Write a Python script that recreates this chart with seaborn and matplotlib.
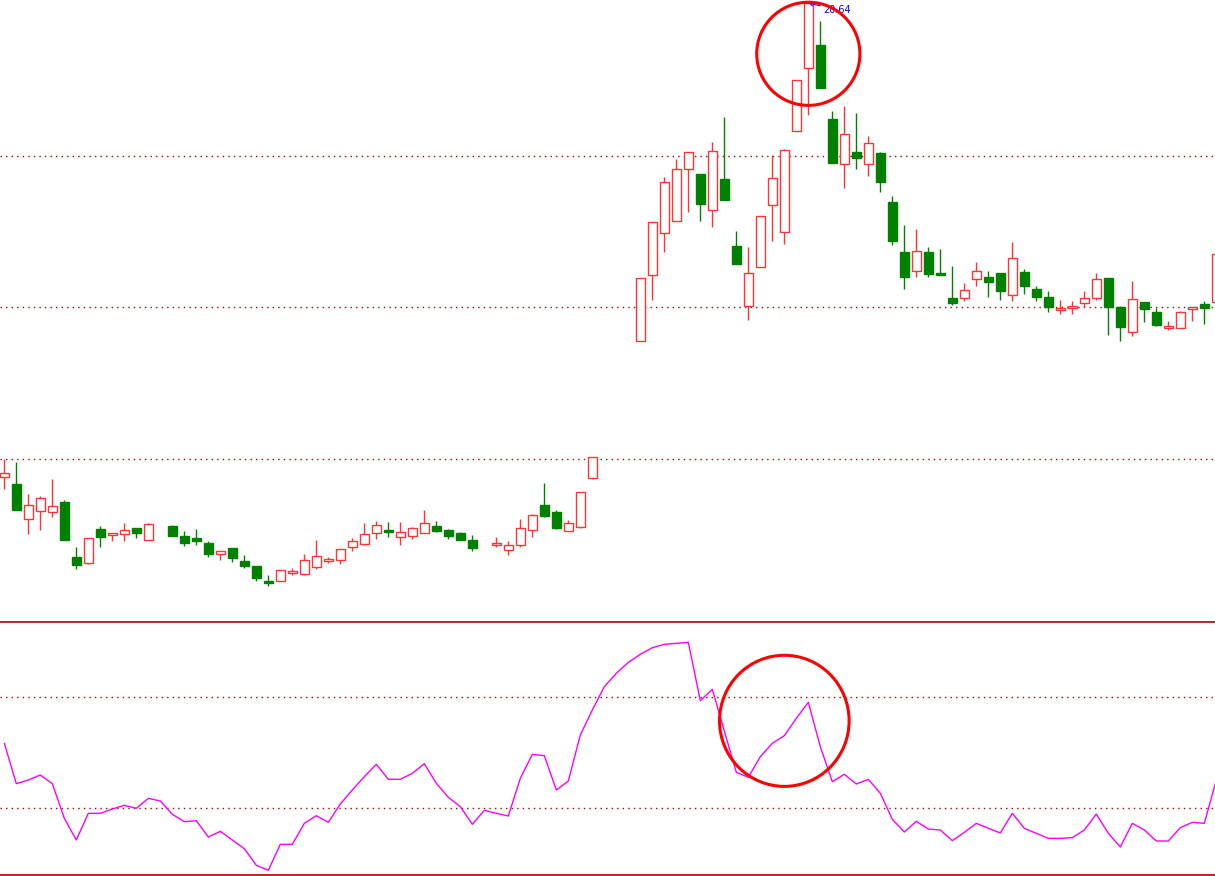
import numpy as np
import pandas as pd
import matplotlib
matplotlib.use('Agg')
import matplotlib.pyplot as plt
import seaborn as sns
from matplotlib.patches import Ellipse

nan = np.nan

# daily OHLC (nan = no candle drawn that day)
opens = [8.80, 8.62, 7.75, 7.95, 7.92, 8.17, 6.79, 6.65, 7.49, 7.35,
         7.37, 7.52, 7.22, nan, 7.57, 7.32, 7.27, 7.14, 6.87, 7.02,
         6.69, 6.57, 6.19, 6.20, 6.39, 6.37, 6.55, 6.70, 6.71, 7.05,
         7.12, 7.40, 7.47, 7.30, 7.32, 7.40, 7.57, 7.47, 7.39, 7.22,
         nan, 7.09, 6.96, 7.10, 7.46, 8.09, 7.92, 7.45, 7.55, 8.76,
         nan, nan, nan, 12.18, 13.83, 14.88, 15.18, 16.48, 16.37, 15.46,
         16.24, 14.57, 13.06, 14.03, 15.58, 14.91, 17.43, 19.01, 19.59, 17.74,
         16.61, 16.92, 16.61, 16.89, 15.67, 14.42, 13.93, 14.42, 13.89, 13.27,
         13.26, 13.73, 13.79, 13.89, 13.33, 13.92, 13.49, 13.29, 12.97, 13.01,
         13.15, 13.27, 13.77, 13.04, 12.41, 13.17, 12.92, 12.51, 12.51, 13.00,
         13.12, 13.16]
highs = [9.24, 9.17, 8.37, 8.32, 8.74, 8.21, 7.04, 7.26, 7.57, 7.38,
         7.63, 7.52, 7.64, nan, 7.59, 7.44, 7.49, 7.19, 6.93, 7.02,
         6.84, 6.57, 6.34, 6.47, 6.52, 6.87, 7.22, 6.78, 6.98, 7.27,
         7.64, 7.69, 7.67, 7.67, 7.53, 7.97, 7.69, 7.49, 7.42, 7.34,
         nan, 7.29, 7.19, 7.74, 7.86, 8.64, 7.97, 7.72, 8.42, 9.28,
         nan, nan, nan, 13.76, 15.16, 16.30, 16.74, 16.91, 16.37, 17.16,
         17.79, 14.94, 14.55, 15.31, 16.85, 16.99, 18.71, 20.64, 20.18, 17.94,
         18.07, 17.89, 17.32, 16.92, 15.82, 15.09, 14.99, 14.54, 14.49, 14.07,
         13.64, 14.17, 13.94, 13.89, 14.67, 13.99, 13.57, 13.44, 13.22, 13.19,
         13.44, 13.89, 13.77, 13.07, 13.69, 13.17, 13.02, 12.69, 12.95, 13.05,
         13.19, 14.39]
lows = [8.49, 7.97, 7.37, 7.47, 7.79, 7.22, 6.49, 6.62, 7.04, 7.19,
        7.19, 7.27, 7.22, nan, 7.32, 7.07, 7.09, 6.79, 6.72, 6.67,
        6.52, 6.19, 6.07, 6.20, 6.35, 6.35, 6.50, 6.65, 6.62, 6.95,
        7.10, 7.24, 7.29, 7.09, 7.24, 7.40, 7.42, 7.24, 7.22, 6.94,
        nan, 7.04, 6.84, 7.05, 7.30, 7.79, 7.49, 7.44, 7.52, 8.73,
        nan, nan, nan, 12.18, 13.21, 14.41, 15.18, 15.42, 15.20, 15.05,
        15.72, 14.12, 12.72, 14.03, 14.70, 14.62, 17.43, 17.85, 18.52, 16.65,
        16.02, 16.50, 16.32, 15.92, 14.60, 13.50, 13.80, 13.80, 13.85, 13.10,
        13.20, 13.57, 13.30, 13.22, 13.20, 13.37, 13.20, 12.92, 12.87, 12.87,
        13.05, 13.22, 12.35, 12.20, 12.32, 12.67, 12.57, 12.46, 12.51, 12.70,
        12.62, 13.16]
closes = [8.89, 7.97, 8.09, 8.27, 8.07, 7.22, 6.59, 7.26, 7.29, 7.38,
          7.47, 7.39, 7.62, nan, 7.32, 7.14, 7.19, 6.87, 6.93, 6.77,
          6.57, 6.27, 6.15, 6.47, 6.44, 6.72, 6.81, 6.74, 6.98, 7.18,
          7.36, 7.58, 7.42, 7.41, 7.51, 7.63, 7.44, 7.32, 7.22, 7.02,
          nan, 7.14, 7.08, 7.51, 7.83, 7.82, 7.52, 7.63, 8.42, 9.28,
          nan, nan, nan, 13.76, 15.16, 16.16, 16.48, 16.91, 15.62, 16.93,
          15.72, 14.12, 13.88, 15.31, 16.26, 16.96, 18.71, 20.63, 18.52, 16.65,
          17.36, 16.77, 17.13, 16.17, 14.70, 13.78, 14.44, 13.87, 13.85, 13.15,
          13.47, 13.94, 13.67, 13.45, 14.27, 13.57, 13.30, 13.05, 13.02, 13.07,
          13.27, 13.74, 13.05, 12.55, 13.24, 13.00, 12.60, 12.57, 12.91, 13.04,
          13.02, 14.37]

# indicator (CCI-like oscillator)
cci = [16.5, -56.1, -49.5, -40.5, -56.1, -118.5, -157.5, -109.5, -109.5, -101.7,
       -95.1, -100.5, -82.5, -87.3, -111.3, -124.5, -122.7, -152.1, -141.9, -157.5,
       -173.1, -203.1, -212.1, -165.3, -165.3, -127.5, -113.7, -125.7, -92.7, -67.5,
       -43.5, -21.3, -48.3, -48.3, -37.5, -20.1, -55.5, -80.7, -97.5, -129.3,
       -104.1, -109.5, -114.3, -46.5, -3.3, -5.7, -67.5, -51.3, 31.5, 76.5,
       118.5, 142.5, 162.3, 176.7, 188.7, 194.7, 196.5, 198.3, 93.3, 113.7,
       38.7, -35.7, -44.7, -7.5, 16.5, 30.3, 61.5, 90.3, 10.5, -52.5,
       -39.3, -56.7, -48.3, -73.5, -120.3, -143.1, -123.9, -137.7, -139.5, -158.7,
       -143.7, -127.5, -136.5, -144.9, -109.5, -136.5, -145.5, -154.5, -154.5, -153.3,
       -139.5, -110.7, -145.5, -170.1, -127.5, -139.5, -159.3, -159.3, -135.3, -125.7,
       -127.5, -49.5]

price_levels = [16.82, 13.04, 9.24]
cci_levels = [100, -100]
peak_label = '20.64'

df = pd.DataFrame({'day': np.arange(len(opens)), 'open': opens, 'high': highs,
                   'low': lows, 'close': closes, 'cci': cci})

RED = '#ff3333'
GREEN = '#008000'
DOT = '#b00000'

sns.set_style('white')
fig = plt.figure(figsize=(12.15, 8.76), dpi=100)
ax = fig.add_axes([0, 255 / 876, 1, 621 / 876])
ax2 = fig.add_axes([0, 1 / 876, 1, 253 / 876], sharex=ax)

# --- candles ---
c = df.dropna(subset=['open'])
up = c[c['close'] >= c['open']]
down = c[c['close'] < c['open']]

ax.vlines(up['day'], up['low'], up['high'], color=RED, lw=1, zorder=2)
ax.bar(up['day'], up['close'] - up['open'], bottom=up['open'], width=0.7,
       facecolor='white', edgecolor=RED, lw=1, zorder=3)
ax.vlines(down['day'], down['low'], down['high'], color=GREEN, lw=1, zorder=2)
ax.bar(down['day'], down['close'] - down['open'], bottom=down['open'], width=0.7,
       facecolor=GREEN, edgecolor=GREEN, lw=1, zorder=3)

for lvl in price_levels:
    ax.axhline(lvl, color=DOT, lw=1, ls=(0, (1, 3)), zorder=1)

ax.set_xlim(-0.36, 100.89)
ax.set_ylim(5.19, 20.715)

ax.annotate(peak_label, xy=(67, 20.64), xytext=(11, -5), textcoords='offset points',
            ha='left', va='center', fontsize=7, color='blue',
            arrowprops=dict(arrowstyle='->', color='blue', lw=0.7, shrinkA=0, shrinkB=0))
ax.add_patch(Ellipse((67, 19.37), 8.6, 2.58, fill=False, ec='red', lw=2.2, zorder=5))

# --- indicator ---
sns.lineplot(data=df, x='day', y='cci', ax=ax2, color='#ff00ff', lw=1)
for lvl in cci_levels:
    ax2.axhline(lvl, color=DOT, lw=1, ls=(0, (1, 3)), zorder=1)
ax2.set_ylim(-220.5, 234.9)
ax2.add_patch(Ellipse((65, 57), 10.8, 236, fill=False, ec='red', lw=2.2, zorder=5))

for a in (ax, ax2):
    a.set_xticks([])
    a.set_yticks([])
    a.set_xlabel('')
    a.set_ylabel('')
    for s in a.spines.values():
        s.set_visible(False)
for s in ('top', 'bottom'):
    ax2.spines[s].set_visible(True)
    ax2.spines[s].set_color('#b00000')
    ax2.spines[s].set_linewidth(1.2)

fig.savefig('out.png', dpi=100)
